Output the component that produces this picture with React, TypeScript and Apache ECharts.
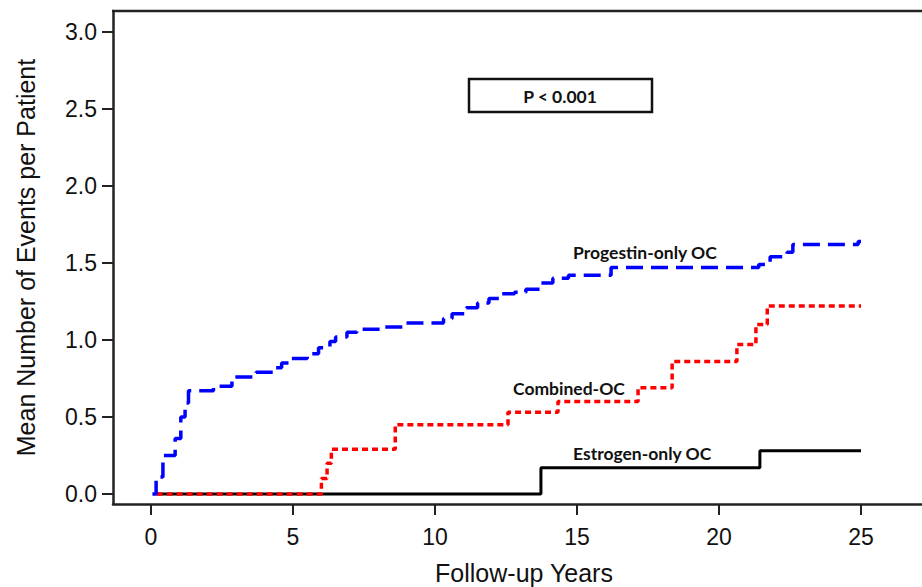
import React, { useEffect, useRef } from "react";
import * as echarts from "echarts";

const xTicks = [0, 5, 10, 15, 20, 25];
const yTicks = [0, 0.5, 1, 1.5, 2, 2.5, 3];
const xRange = [-1.338, 27.148];
const yRange = [-0.065, 3.136];

const progestinX = [0.05, 0.18, 0.42, 0.85, 1.05, 1.2, 1.32, 2.2, 2.85, 3.7, 4.3, 4.6, 4.95, 5.5, 5.9, 6.3, 6.5, 6.9, 7.25, 8.2, 8.9, 10.3, 10.6, 11.1, 11.5, 11.9, 12.3, 12.8, 13.2, 13.7, 14.15, 14.7, 16.2, 21.4, 21.8, 22.4, 22.6, 24.9, 25];
const progestinY = [0, 0.11, 0.25, 0.36, 0.5, 0.59, 0.67, 0.7, 0.76, 0.79, 0.82, 0.85, 0.88, 0.91, 0.95, 0.99, 1.02, 1.05, 1.07, 1.085, 1.11, 1.14, 1.17, 1.21, 1.24, 1.27, 1.3, 1.31, 1.33, 1.37, 1.4, 1.42, 1.47, 1.49, 1.54, 1.57, 1.62, 1.64, 1.64];

const combinedX = [0.2, 6.0, 6.2, 6.35, 8.6, 12.57, 14.33, 17.15, 18.35, 20.63, 21.3, 21.7, 25];
const combinedY = [0, 0.1, 0.2, 0.29, 0.45, 0.53, 0.6, 0.69, 0.86, 0.97, 1.1, 1.22, 1.22];

const estrogenX = [0.2, 13.73, 21.44, 25];
const estrogenY = [0, 0.17, 0.28, 0.28];

const seriesNames = ["Estrogen-only OC", "Combined-OC", "Progestin-only OC"];

const zip = (xs: number[], ys: number[]) => xs.map((x, i) => [x, ys[i]]);

export default function App() {
  const ref = useRef<HTMLDivElement>(null);
  useEffect(() => {
    if (!ref.current) return;
    const chart = echarts.init(ref.current, null, { renderer: "svg" });
    const axisFont = "Liberation Sans, Arial, sans-serif";
    const labelFont = "Lato, Carlito, sans-serif";
    const axisLine = { show: true, onZero: false, lineStyle: { color: "#222", width: 2.5 } };
    const axisTick = { show: true, length: 11, lineStyle: { color: "#222", width: 2 } };
    chart.setOption({
      animation: false,
      backgroundColor: "#ffffff",
      grid: { left: 113, right: 0, top: 11, bottom: 83, containLabel: false, outerBoundsMode: "none" },
      xAxis: {
        type: "value",
        min: xRange[0],
        max: xRange[1],
        name: "Follow-up Years",
        nameLocation: "middle",
        nameGap: 56,
        nameTextStyle: { fontFamily: axisFont, fontSize: 25, color: "#111", padding: [0, 0, 0, 13] },
        axisLine,
        axisTick: { ...axisTick, customValues: xTicks },
        axisLabel: { fontFamily: axisFont, fontSize: 23, color: "#111", margin: 21, customValues: xTicks },
        splitLine: { show: false },
      },
      yAxis: {
        type: "value",
        min: yRange[0],
        max: yRange[1],
        name: "Mean Number of Events per Patient",
        nameLocation: "middle",
        nameGap: 75,
        nameTextStyle: { fontFamily: axisFont, fontSize: 25, color: "#111" },
        axisLine,
        axisTick: { ...axisTick, customValues: yTicks },
        axisLabel: {
          fontFamily: axisFont,
          fontSize: 23,
          color: "#111",
          margin: 16,
          customValues: yTicks,
          formatter: (v: number) => v.toFixed(1),
        },
        splitLine: { show: false },
      },
      series: [
        {
          name: seriesNames[0],
          type: "line",
          step: "end",
          symbol: "none",
          data: zip(estrogenX, estrogenY),
          lineStyle: { color: "#000000", width: 3 },
          z: 2,
        },
        {
          name: seriesNames[1],
          type: "line",
          step: "end",
          symbol: "none",
          data: zip(combinedX, combinedY),
          lineStyle: { color: "#ff0000", width: 3.5, type: [6, 4] },
          z: 3,
        },
        {
          name: seriesNames[2],
          type: "line",
          step: "end",
          symbol: "none",
          data: zip(progestinX, progestinY),
          lineStyle: { color: "#0000ff", width: 3.5, type: [17, 8] },
          z: 4,
        },
      ],
      graphic: [
        { type: "line", shape: { x1: 112, y1: 11, x2: 922, y2: 11 }, style: { stroke: "#222", lineWidth: 2.5 } },
        { type: "rect", shape: { x: 469, y: 79, width: 183, height: 33 }, style: { fill: "#fff", stroke: "#111", lineWidth: 2.5 } },
        {
          type: "text",
          x: 560,
          y: 96,
          style: { text: "P < 0.001", fontFamily: labelFont, fontWeight: "bold", fontSize: 17.5, fill: "#111", align: "center", verticalAlign: "middle" },
        },
        {
          type: "text",
          x: 573,
          y: 252,
          style: { text: seriesNames[2], fontFamily: labelFont, fontWeight: "bold", fontSize: 17.5, fill: "#111", align: "left", verticalAlign: "middle" },
        },
        {
          type: "text",
          x: 513,
          y: 388,
          style: { text: seriesNames[1], fontFamily: labelFont, fontWeight: "bold", fontSize: 17.5, fill: "#111", align: "left", verticalAlign: "middle" },
        },
        {
          type: "text",
          x: 573,
          y: 453,
          style: { text: seriesNames[0], fontFamily: labelFont, fontWeight: "bold", fontSize: 17.5, fill: "#111", align: "left", verticalAlign: "middle" },
        },
      ],
    });
    return () => chart.dispose();
  }, []);
  return (
    <div
      ref={ref}
      style={{ position: "fixed", left: 0, top: 0, width: 922, height: 587, background: "#fff" }}
    />
  );
}
